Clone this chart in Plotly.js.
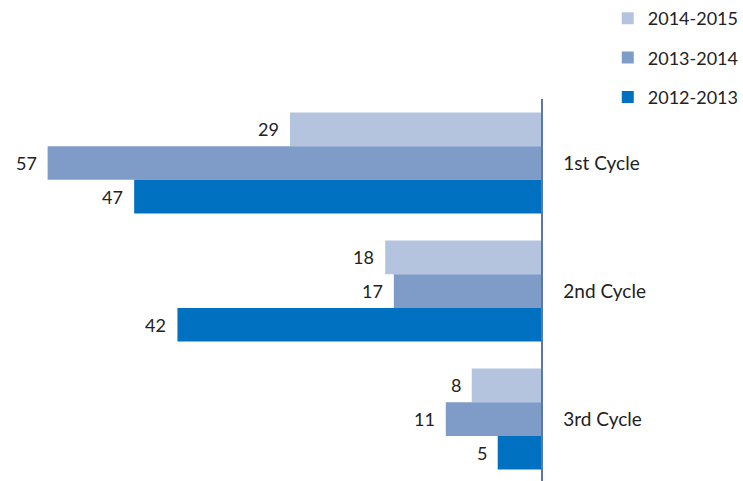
<!DOCTYPE html>
<html><head><meta charset="utf-8">
<script src="https://cdn.plot.ly/plotly-3.0.1.min.js"></script>
<style>html,body{margin:0;padding:0;background:#fff}#chart{width:743px;height:481px}</style>
</head><body><div id="chart"></div>
<script>
var categories = ["1st Cycle", "2nd Cycle", "3rd Cycle"];
var series = ["2014-2015", "2013-2014", "2012-2013"];
var v2014_2015 = [29, 18, 8];
var v2013_2014 = [57, 17, 11];
var v2012_2013 = [47, 42, 5];
var colors = ["#b4c4de", "#7f9cc8", "#0070c0"];
var values = [v2014_2015, v2013_2014, v2012_2013];
var FONT = "Lato, 'Open Sans', sans-serif";

var traces = series.map(function(name, i){
  return {type:'bar', orientation:'h', name:name, legendgroup:'g'+i,
    x: values[i], y: categories, marker:{color:colors[i]}, hoverinfo:'x'};
});

var annotations = [];
var nb = series.length;
series.forEach(function(name, i){
  values[i].forEach(function(v, j){
    var off = (i - (nb-1)/2) * (0.79/nb);
    annotations.push({x: v, y: j + off, xref:'x', yref:'y', text: String(v),
      showarrow:false, xanchor:'right', yanchor:'middle', xshift:-9,
      font:{family:FONT, size:18, color:'#222'}});
  });
});

var layout = {
  width:743, height:481,
  margin:{l:0, r:202, t:99, b:0},
  barmode:'group', bargap:0.21, bargroupgap:0,
  paper_bgcolor:'#fff', plot_bgcolor:'#fff',
  showlegend:true,
  legend:{xref:'container', yref:'container', x:0.818, y:1.01, xanchor:'left', yanchor:'top',
    font:{family:FONT, size:18, color:'#222'}, tracegroupgap:13, traceorder:'grouped'},
  xaxis:{range:[62.5, 0], showgrid:false, zeroline:false, showticklabels:false, ticks:''},
  yaxis:{type:'category', range:[2.484, -0.5], side:'right', showline:true, linecolor:'#5a78aa', linewidth:1.5,
    showgrid:false, ticks:'', ticklabelstandoff:17, tickfont:{family:FONT, size:19, color:'#222'}},
  annotations: annotations
};
Plotly.newPlot('chart', traces, layout, {displayModeBar:false, staticPlot:true});
</script></body></html>
